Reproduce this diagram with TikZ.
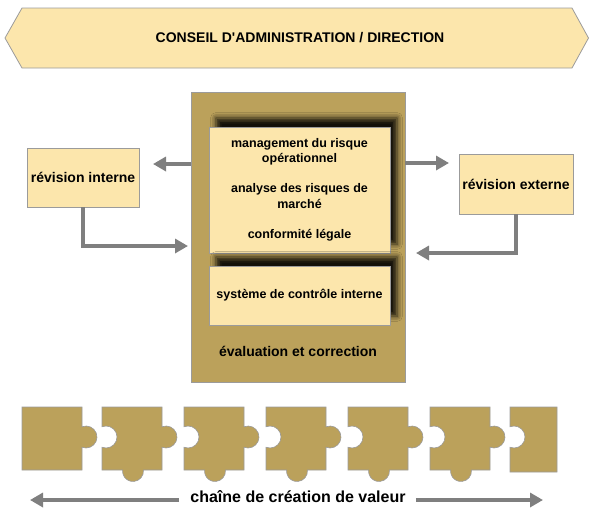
\documentclass[tikz,border=0pt]{standalone}
\usepackage{fontspec}
\setmainfont{Liberation Sans}
\usetikzlibrary{arrows.meta,shadows.blur}
\definecolor{gold}{HTML}{BBA15B}
\definecolor{pale}{HTML}{FCE6AC}
\definecolor{edgegray}{HTML}{9B9B9B}
\definecolor{arrgray}{HTML}{7F7F7F}
\newcommand{\pzfull}[1]{%
  \draw[piece] (#1,407) -- (#1+60,407) -- (#1+60,426.75)
    arc[start angle=-111.3,end angle=111.3,radius=11] -- (#1+60,470)
    -- (#1+41.45,470) arc[start angle=-5.4,end angle=185.4,radius=10.5]
    -- (#1,470) -- (#1,447.25)
    arc[start angle=111.3,end angle=-111.3,radius=11] -- cycle;}
\begin{document}
\begin{tikzpicture}[x=1pt,y=-1pt,
  pale box/.style={draw=edgegray, fill=pale, line width=0.8pt, inner sep=0pt,
    font=\bfseries\fontsize{14}{16}\selectfont, align=center},
  inner box/.style={pale box, minimum width=181pt,
    font=\bfseries\fontsize{12.5}{15.5}\selectfont,
    blur shadow={shadow xshift=7pt, shadow yshift=9pt, shadow blur radius=5.5pt, shadow opacity=90}},
  arr/.style={draw=arrgray, line width=4pt, -{Triangle[length=13pt,width=14pt]}},
  piece/.style={draw=edgegray, fill=gold, line width=0.6pt},
  lbl/.style={inner sep=0pt, font=\bfseries\fontsize{14}{16}\selectfont, align=center},
]
\useasboundingbox (0,0) rectangle (589,512);

% banner
\filldraw[fill=pale, draw=edgegray, line width=0.8pt]
  (5,38) -- (22,8) -- (572,8) -- (588.5,38) -- (572,68) -- (22,68) -- cycle;
\node[lbl] (board) at (300,38) {CONSEIL D\textquotesingle ADMINISTRATION / DIRECTION};

% central box
\node[draw=edgegray, fill=gold, line width=0.8pt, minimum width=214pt, minimum height=290pt] (cbox) at (298,237) {};
\node[inner box, minimum height=126pt] (risk) at (299.5,190)
  {management du risque\\opérationnel\\[14.5pt]analyse des risques de\\marché\\[15pt]conformité légale};
\node[inner box, minimum height=59pt] (ics) at (299.5,295.5) {système de contrôle interne};
\node[lbl] (evcor) at (298,351) {évaluation et correction};

% side boxes
\node[pale box, minimum width=112pt, minimum height=59pt] (rint) at (83,177.5) {révision interne};
\node[pale box, minimum width=114pt, minimum height=60pt] (rext) at (516,184) {révision externe};

% arrows
\coordinate (lt1) at (153,164);
\coordinate (rt1) at (449,163);
\coordinate (li) at (188,246);
\coordinate (ri) at (416,253);
\draw[arr] (cbox.west |- lt1) -- (lt1);
\draw[arr] (cbox.east |- rt1) -- (rt1);
\draw[arr] (rint.south) |- (li);
\draw[arr] (rext.south) |- (ri);

% puzzle
\draw[piece] (22,407) -- (82,407) -- (82,426.75)
  arc[start angle=-111.3,end angle=111.3,radius=11] -- (82,470) -- (22,470) -- cycle;
\pzfull{102}
\pzfull{184}
\pzfull{266}
\pzfull{348}
\pzfull{430}
\draw[piece] (510,407) -- (557,407) -- (557,472) -- (510,472) -- (510,447.25)
  arc[start angle=111.3,end angle=-111.3,radius=11] -- cycle;

% value chain
\node[lbl, font=\bfseries\fontsize{16}{18}\selectfont] (chain) at (298,497) {chaîne de création de valeur};
\coordinate (bl) at (30,500);
\coordinate (br) at (543,500);
\draw[arr, shorten <=11pt] (chain.west |- bl) -- (bl);
\draw[arr, shorten <=10pt] (chain.east |- br) -- (br);
\end{tikzpicture}
\end{document}
